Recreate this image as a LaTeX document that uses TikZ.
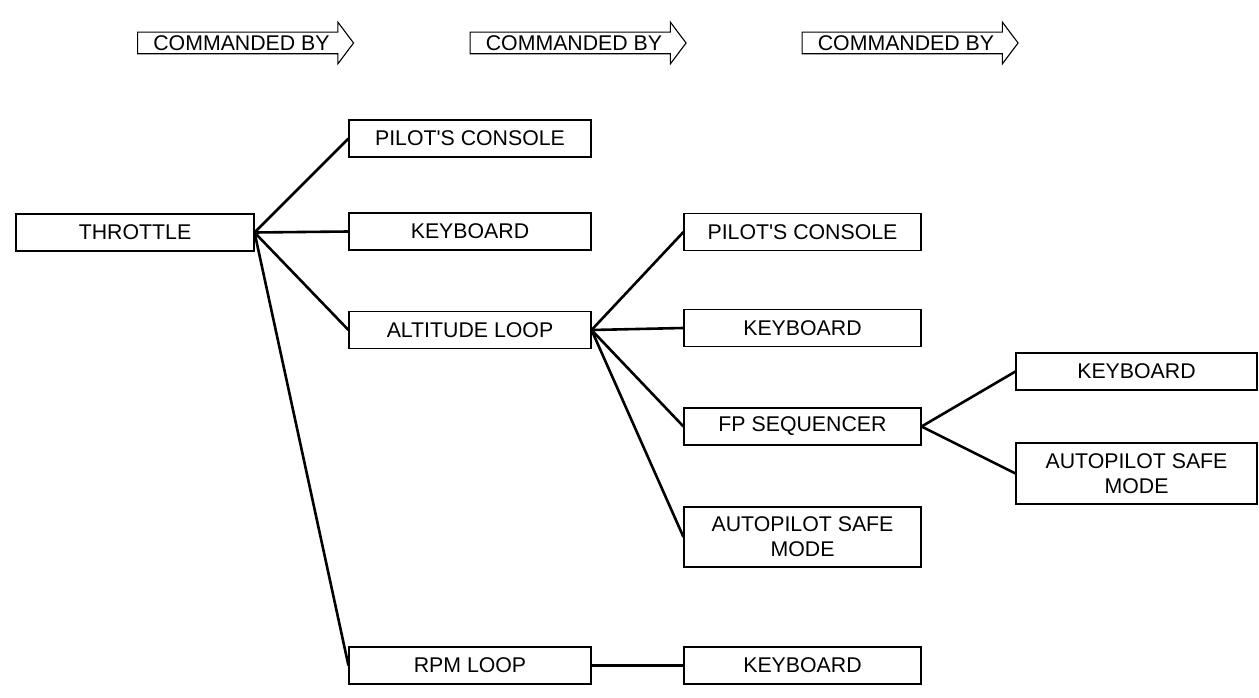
\documentclass[tikz,border=0pt]{standalone}
\usepackage{fontspec}
\setmainfont{Liberation Sans}
\usetikzlibrary{shapes.arrows}

\begin{document}
\begin{tikzpicture}[x=1pt,y=-1pt,
    box/.style={draw,line width=1.1pt,minimum height=37pt,inner sep=2pt,
      font=\fontsize{21.3}{25}\selectfont,align=center},
    conn/.style={line width=2.6pt},
    cmdarrow/.style={single arrow,draw,line width=1.1pt,minimum height=216pt,
      single arrow head extend=10pt,single arrow tip angle=106,
      text height=14.5pt,text depth=0pt,inner ysep=3pt,
      font=\fontsize{21.3}{24}\selectfont}]
  \useasboundingbox (0,0) rectangle (1259,698);
  % Kommandopiler
  \node[cmdarrow] (cmdA) at (241.5,43) {COMMANDED BY};
  \node[cmdarrow] (cmdB) at (574,43) {COMMANDED BY};
  \node[cmdarrow] (cmdC) at (906,43) {COMMANDED BY};
  % Throttle
  \node[box,minimum width=238pt] (throttle) at (135,232.5) {THROTTLE};
  % Nivaa 1
  \node[box,minimum width=242pt] (pilotA) at (470,138.5) {PILOT\textquotesingle S CONSOLE};
  \node[box,minimum width=242pt] (keyA) at (470,231.5) {KEYBOARD};
  \node[box,minimum width=242pt] (alt) at (470,330) {ALTITUDE LOOP};
  \node[box,minimum width=242pt] (rpm) at (470,665.5) {RPM LOOP};
  % Nivaa 2
  \node[box,minimum width=237pt] (pilotB) at (802.5,232) {PILOT\textquotesingle S CONSOLE};
  \node[box,minimum width=237pt] (keyB) at (802.5,328) {KEYBOARD};
  \node[box,minimum width=237pt] (fpseq) at (802.5,426.5) {FP SEQUENCER};
  \node[box,minimum width=237pt,minimum height=60pt] (safeB) at (802.5,537) {AUTOPILOT SAFE\\MODE};
  \node[box,minimum width=237pt] (keyC) at (802.5,665.5) {KEYBOARD};
  % Nivaa 3
  \node[box,minimum width=241pt] (keyD) at (1136.5,371.5) {KEYBOARD};
  \node[box,minimum width=241pt,minimum height=61pt] (safeD) at (1136.5,473.5) {AUTOPILOT SAFE\\MODE};
  % Forbindelser
  \foreach \n in {pilotA,keyA,alt,rpm}
    \draw[conn] (throttle.east) -- (\n.west);
  \foreach \n in {pilotB,keyB,fpseq,safeB}
    \draw[conn] (alt.east) -- (\n.west);
  \foreach \n in {keyD,safeD}
    \draw[conn] (fpseq.east) -- (\n.west);
  \draw[conn] (rpm.east) -- (keyC.west);
\end{tikzpicture}
\end{document}
